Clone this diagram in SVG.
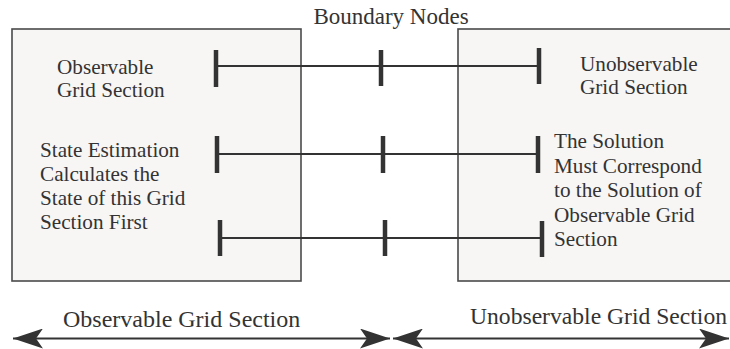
<svg xmlns="http://www.w3.org/2000/svg" width="730" height="349" viewBox="0 0 730 349">
  <style>
    .box { fill: #f7f6f5; stroke: #4a4a4a; stroke-width: 1.6; }
    .link { stroke: #333; stroke-width: 2; fill: none; }
    .bar { stroke: #333; stroke-width: 4.5; fill: none; }
    .span { stroke: #333; stroke-width: 2; fill: none; }
    text { font-family: "Liberation Serif", "Times New Roman", serif; fill: #333; }
    .t21 { font-size: 21.2px; }
    .t23 { font-size: 23px; }
    .t24 { font-size: 24px; }
  </style>
  <defs>
    <marker id="barb" viewBox="0 0 30 20" refX="30" refY="10" markerWidth="30" markerHeight="20" markerUnits="userSpaceOnUse" orient="auto-start-reverse">
      <path d="M0,0 L30,10 L0,20 L7,10 Z" fill="#333"/>
    </marker>
  </defs>

  <g id="observable-section">
    <rect class="box" x="12" y="29" width="289" height="252"/>
    <text class="t21" x="57" y="74">Observable</text>
    <text class="t21" x="57" y="97">Grid Section</text>
    <text class="t21" x="40" y="157">State Estimation</text>
    <text class="t21" x="40" y="181">Calculates the</text>
    <text class="t21" x="40" y="205">State of this Grid</text>
    <text class="t21" x="40" y="229">Section First</text>
  </g>

  <g id="unobservable-section">
    <rect class="box" x="458" y="29" width="280" height="252"/>
    <text class="t21" x="580" y="71">Unobservable</text>
    <text class="t21" x="580" y="94">Grid Section</text>
    <text class="t21" x="554" y="148">The Solution</text>
    <text class="t21" x="554" y="173">Must Correspond</text>
    <text class="t21" x="554" y="197">to the Solution of</text>
    <text class="t21" x="554" y="222">Observable Grid</text>
    <text class="t21" x="554" y="246">Section</text>
  </g>

  <g id="boundary-nodes">
    <text class="t23" x="391" y="24" text-anchor="middle">Boundary Nodes</text>
  </g>

  <g id="connectors">
    <!-- tie line 1 -->
    <line class="link" x1="216" y1="66" x2="539" y2="66"/>
    <line class="bar" x1="216" y1="50" x2="216" y2="87"/>
    <line class="bar" x1="381" y1="50" x2="381" y2="86"/>
    <line class="bar" x1="539" y1="48" x2="539" y2="84"/>
    <!-- tie line 2 -->
    <line class="link" x1="217" y1="154" x2="538" y2="154"/>
    <line class="bar" x1="217" y1="136" x2="217" y2="173"/>
    <line class="bar" x1="383" y1="136" x2="383" y2="173"/>
    <line class="bar" x1="538" y1="136" x2="538" y2="173"/>
    <!-- tie line 3 -->
    <line class="link" x1="220" y1="238" x2="542" y2="238"/>
    <line class="bar" x1="220" y1="220" x2="220" y2="256"/>
    <line class="bar" x1="385" y1="220" x2="385" y2="256"/>
    <line class="bar" x1="542" y1="221" x2="542" y2="257"/>
  </g>

  <g id="extent-arrows">
    <line class="span" x1="13" y1="338.5" x2="390" y2="338.5" marker-start="url(#barb)" marker-end="url(#barb)"/>
    <line class="span" x1="393" y1="338.5" x2="729" y2="338.5" marker-start="url(#barb)" marker-end="url(#barb)"/>
    <text class="t24" x="63" y="327">Observable Grid Section</text>
    <text class="t24" x="470" y="324" textLength="257" lengthAdjust="spacingAndGlyphs">Unobservable Grid Section</text>
  </g>
</svg>
